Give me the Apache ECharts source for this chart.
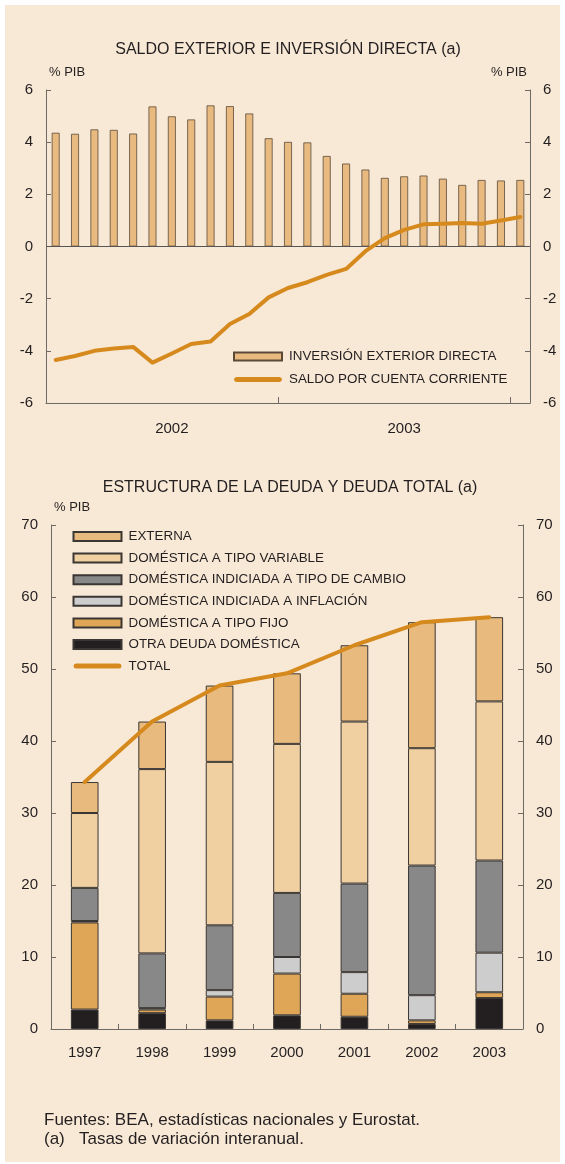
<!DOCTYPE html>
<html>
<head>
<meta charset="utf-8">
<script src="https://cdn.jsdelivr.net/npm/echarts@6/dist/echarts.min.js"></script>
<style>
html,body{margin:0;padding:0;background:#fff;}
#c{width:565px;height:1164px;}
</style>
</head>
<body>
<div id="c"></div>
<script>
// ---- Top chart data (monthly, % PIB) ----
const meses = ['2002-01','2002-02','2002-03','2002-04','2002-05','2002-06','2002-07','2002-08','2002-09','2002-10','2002-11','2002-12',
               '2003-01','2003-02','2003-03','2003-04','2003-05','2003-06','2003-07','2003-08','2003-09','2003-10','2003-11','2003-12','2004-01'];
const inversionDirecta = [4.36,4.32,4.49,4.47,4.33,5.37,4.99,4.87,5.41,5.38,5.10,4.15,4.01,3.99,3.47,3.18,2.95,2.63,2.69,2.72,2.60,2.36,2.55,2.53,2.55];
const saldoCuentaCorriente = [-4.35,-4.20,-4.00,-3.91,-3.85,-4.45,-4.10,-3.74,-3.64,-2.97,-2.59,-1.95,-1.59,-1.37,-1.09,-0.86,-0.18,0.32,0.64,0.85,0.87,0.90,0.87,1.00,1.13];
const topYTicks = {min:-6, max:6, interval:2};

// ---- Bottom chart data (% PIB) ----
const anios = ['1997','1998','1999','2000','2001','2002','2003'];
const otraDeuda = [2.7,2.2,1.2,1.9,1.7,0.7,4.3];
const tipoFijo = [12.1,0.5,3.3,5.8,3.2,0.5,0.8];
const indInflacion = [0.2,0.2,0.9,2.3,3.0,3.5,5.5];
const indTipoCambio = [4.6,7.6,9.0,8.9,12.3,18.0,12.8];
const tipoVariable = [10.4,25.6,22.7,20.7,22.5,16.3,22.1];
const externa = [4.3,6.6,10.6,9.8,10.6,17.5,11.7];
const total = [34.3,42.7,47.7,49.4,53.3,56.5,57.2];
const botYTicks = {min:0, max:70, interval:10};

const FONT = 'Liberation Sans, Arial, Helvetica, sans-serif';
const TXT = '#231F20';
const AX = '#6d6a66';
const ORANGE = '#D68A1E';
const LINE_ICON = 'path://M2.5,0 L45.5,0 L47.3,0.7 L48,2.5 L47.3,4.3 L45.5,5 L2.5,5 L0.7,4.3 L0,2.5 L0.7,0.7 Z';

const chart = echarts.init(document.getElementById('c'), null, {renderer:'canvas'});

function yAxisCfg(grid, pos, t, name){
  return {
    type:'value', gridIndex:grid, position:pos, min:t.min, max:t.max, interval:t.interval,
    name:name, nameLocation:'end', nameGap:11,
    nameTextStyle:{fontFamily:FONT, fontSize:13, color:TXT, align: pos==='left'?'left':'right',
                   padding: pos==='left'?[0,0,0,3]:[0,3,0,0]},
    axisLine:{show:true, lineStyle:{color:AX, width:1}},
    axisTick:{show:true, inside:true, length:5, lineStyle:{color:AX}},
    axisLabel:{fontFamily:FONT, fontSize:15, color:TXT, margin:13},
    splitLine:{show:false}
  };
}

const barBorder = {borderColor:'#5b4a38', borderWidth:0.8};
const legendText = {fontFamily:FONT, fontSize:13.4, color:TXT, lineHeight:14, padding:[0,0,0,2]};

const option = {
  backgroundColor:'#ffffff',
  animation:false,
  graphic:[
    {type:'rect', z:-10, silent:true, shape:{x:5,y:5,width:555,height:1157}, style:{fill:'#F8E9D6'}},
    {type:'text', left:44, top:1112, style:{text:'Fuentes: BEA, estadísticas nacionales y Eurostat.', font:'17px '+FONT, fill:TXT}},
    {type:'text', left:44, top:1131, style:{text:'(a)   Tasas de variación interanual.', font:'17px '+FONT, fill:TXT}}
  ],
  title:[
    {text:'SALDO EXTERIOR E INVERSIÓN DIRECTA (a)', left:288, top:42, textAlign:'center', padding:0,
     textStyle:{fontFamily:FONT, fontSize:16, fontWeight:'normal', color:TXT}},
    {text:'ESTRUCTURA DE LA DEUDA Y DEUDA TOTAL (a)', left:290, top:480, textAlign:'center', padding:0,
     textStyle:{fontFamily:FONT, fontSize:16, fontWeight:'normal', color:TXT}}
  ],
  legend:[
    {
      orient:'vertical', left:233, top:349.5, itemWidth:48, itemHeight:8, itemGap:9, padding:0,
      data:[
        {name:'INVERSIÓN EXTERIOR DIRECTA', icon:'rect'},
        {name:'SALDO POR CUENTA CORRIENTE', icon:LINE_ICON, itemStyle:{color:ORANGE, borderWidth:0}}
      ],
      textStyle:legendText, selectedMode:false
    },
    {
      orient:'vertical', left:72.5, top:529.5, itemWidth:48, itemHeight:9, itemGap:7.6, padding:0,
      data:[
        {name:'EXTERNA', icon:'rect'},
        {name:'DOMÉSTICA A TIPO VARIABLE', icon:'rect'},
        {name:'DOMÉSTICA INDICIADA A TIPO DE CAMBIO', icon:'rect'},
        {name:'DOMÉSTICA INDICIADA A INFLACIÓN', icon:'rect'},
        {name:'DOMÉSTICA A TIPO FIJO', icon:'rect'},
        {name:'OTRA DEUDA DOMÉSTICA', icon:'rect'},
        {name:'TOTAL', icon:LINE_ICON, itemStyle:{color:ORANGE, borderWidth:0}}
      ],
      textStyle:legendText, selectedMode:false
    }
  ],
  grid:[
    {left:46, top:90, width:484, height:313, containLabel:false},
    {left:51, top:525, width:472, height:504, containLabel:false}
  ],
  xAxis:[
    {
      type:'category', gridIndex:0, data:meses, boundaryGap:true, position:'bottom',
      axisLine:{show:true, onZero:false, lineStyle:{color:AX}},
      axisTick:{show:true, inside:true, length:6, alignWithLabel:false, interval:(i)=> i===12 || i===24, lineStyle:{color:AX}},
      axisLabel:{fontFamily:FONT, fontSize:15, color:TXT, margin:18, interval:(i)=> i===6 || i===18, formatter:(v)=>v.slice(0,4)}
    },
    {
      type:'category', gridIndex:1, data:anios, boundaryGap:true, position:'bottom',
      axisLine:{show:true, lineStyle:{color:AX}},
      axisTick:{show:true, inside:true, length:5, lineStyle:{color:AX}},
      axisLabel:{fontFamily:FONT, fontSize:15, color:TXT, margin:16}
    }
  ],
  yAxis:[
    yAxisCfg(0,'left',topYTicks,'% PIB'),
    yAxisCfg(0,'right',topYTicks,'% PIB'),
    yAxisCfg(1,'left',botYTicks,'% PIB'),
    yAxisCfg(1,'right',botYTicks,'')
  ],
  series:[
    {
      name:'INVERSIÓN EXTERIOR DIRECTA', type:'bar', xAxisIndex:0, yAxisIndex:0, data:inversionDirecta,
      barWidth:'41%', itemStyle:Object.assign({color:'#E9BA80'}, barBorder),
      markLine:{silent:true, symbol:'none', label:{show:false}, lineStyle:{color:'#555', type:'solid', width:1},
                data:[{yAxis:0}]}
    },
    {
      name:'SALDO POR CUENTA CORRIENTE', type:'line', xAxisIndex:0, yAxisIndex:0, data:saldoCuentaCorriente,
      symbol:'none', z:5, lineStyle:{color:ORANGE, width:4, cap:'round', join:'round'}, itemStyle:{color:ORANGE, borderWidth:0}
    },
    {name:'OTRA DEUDA DOMÉSTICA', type:'bar', stack:'d', xAxisIndex:1, yAxisIndex:2, data:otraDeuda, barWidth:'41%',
     itemStyle:{color:'#231F20', borderColor:'#3a3633', borderWidth:1}},
    {name:'DOMÉSTICA A TIPO FIJO', type:'bar', stack:'d', xAxisIndex:1, yAxisIndex:2, data:tipoFijo, barWidth:'41%',
     itemStyle:{color:'#E0A658', borderColor:'#3a3633', borderWidth:1}},
    {name:'DOMÉSTICA INDICIADA A INFLACIÓN', type:'bar', stack:'d', xAxisIndex:1, yAxisIndex:2, data:indInflacion, barWidth:'41%',
     itemStyle:{color:'#CDCDCD', borderColor:'#3a3633', borderWidth:1}},
    {name:'DOMÉSTICA INDICIADA A TIPO DE CAMBIO', type:'bar', stack:'d', xAxisIndex:1, yAxisIndex:2, data:indTipoCambio, barWidth:'41%',
     itemStyle:{color:'#888888', borderColor:'#3a3633', borderWidth:1}},
    {name:'DOMÉSTICA A TIPO VARIABLE', type:'bar', stack:'d', xAxisIndex:1, yAxisIndex:2, data:tipoVariable, barWidth:'41%',
     itemStyle:{color:'#F0CFA1', borderColor:'#3a3633', borderWidth:1}},
    {name:'EXTERNA', type:'bar', stack:'d', xAxisIndex:1, yAxisIndex:2, data:externa, barWidth:'41%',
     itemStyle:{color:'#E8BA7E', borderColor:'#3a3633', borderWidth:1}},
    {name:'TOTAL', type:'line', xAxisIndex:1, yAxisIndex:2, data:total, symbol:'none', z:5,
     lineStyle:{color:ORANGE, width:4, cap:'round', join:'round'}, itemStyle:{color:ORANGE, borderWidth:0}}
  ]
};
chart.setOption(option);
</script>
</body>
</html>
